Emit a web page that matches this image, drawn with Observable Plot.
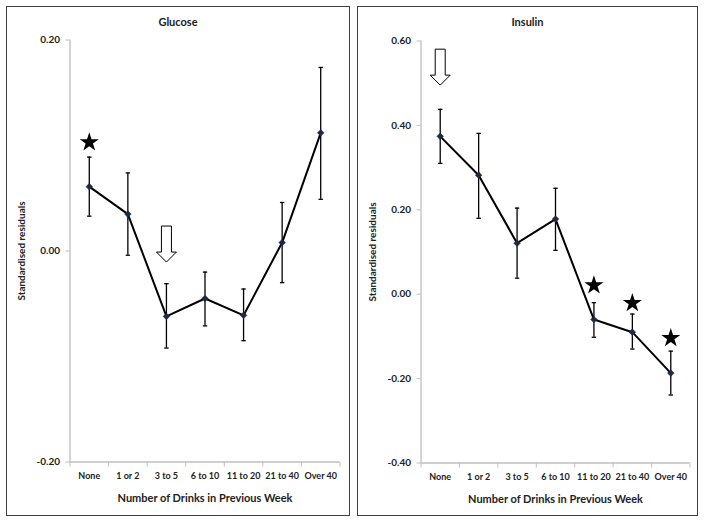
<!DOCTYPE html>
<html>
<head>
<meta charset="utf-8">
<script src="https://cdn.jsdelivr.net/npm/d3@7"></script>
<script src="https://cdn.jsdelivr.net/npm/@observablehq/plot@0.6"></script>
<style>
  body { margin: 0; background: white; width: 706px; height: 522px; position: relative; overflow: hidden; font-family: Lato, "Open Sans", sans-serif; }
  .panel { position: absolute; border: 1.5px solid #404040; height: 508px; background: white; }
  .panel svg { display: block; position: absolute; left: 0; top: 0; }
  .title { position: absolute; left: 0; width: 100%; top: 8px; text-align: center; font-weight: bold; font-size: 11px; color: #222; z-index: 2; }
</style>
</head>
<body>
<div id="left" class="panel" style="left:6px; top:6px; width:342px;"><div class="title">Glucose</div></div>
<div id="right" class="panel" style="left:357px; top:6px; width:339px;"><div class="title">Insulin</div></div>
<script>
const categories = ["None", "1 or 2", "3 to 5", "6 to 10", "11 to 20", "21 to 40", "Over 40"];

const glucose   = [0.061, 0.035, -0.062, -0.045, -0.061, 0.008, 0.112];
const glucoseLo = [0.033, -0.004, -0.092, -0.071, -0.085, -0.030, 0.049];
const glucoseHi = [0.089, 0.074, -0.031, -0.020, -0.036, 0.046, 0.174];
const glucoseTicks = [-0.2, 0.0, 0.2];
const glucoseStars = [{c: "None", v: 0.103}];
const glucoseArrows = [{c: "3 to 5", v: 0.0066}];

const insulin   = [0.374, 0.282, 0.121, 0.178, -0.060, -0.090, -0.187];
const insulinLo = [0.310, 0.180, 0.038, 0.104, -0.102, -0.130, -0.239];
const insulinHi = [0.438, 0.381, 0.204, 0.251, -0.020, -0.047, -0.135];
const insulinTicks = [-0.4, -0.2, 0.0, 0.2, 0.4, 0.6];
const insulinStars = [{c: "11 to 20", v: 0.021}, {c: "21 to 40", v: -0.021}, {c: "Over 40", v: -0.104}];
const insulinArrows = [{c: "None", v: 0.538}];

const xTitle = "Number of Drinks in Previous Week";
const yTitle = "Standardised residuals";

const pos = c => categories.indexOf(c) + 0.5;

const arrowSymbol = {
  draw(context) {
    context.moveTo(-5, -18);
    context.lineTo(5, -18);
    context.lineTo(5, 8);
    context.lineTo(10, 8);
    context.lineTo(0, 18);
    context.lineTo(-10, 8);
    context.lineTo(-5, 8);
    context.closePath();
  }
};
const capSymbol = {
  draw(context) {
    context.moveTo(-2.2, 0);
    context.lineTo(2.2, 0);
  }
};

function panel({values, lo, hi, ticks, stars, arrows, width, height, margins}) {
  const rows = categories.map((c, i) => ({c, p: i + 0.5, v: values[i], lo: lo[i], hi: hi[i]}));
  const yDomain = [ticks[0], ticks[ticks.length - 1]];
  const axisGray = "#bfbfbf";
  return Plot.plot({
    width, height,
    ...margins,
    style: {fontFamily: "Lato, 'Open Sans', sans-serif", color: "#222", background: "transparent", overflow: "visible"},
    x: {type: "linear", domain: [0, categories.length]},
    y: {domain: yDomain},
    marks: [
      Plot.ruleX([0], {stroke: axisGray, strokeWidth: 1.3}),
      Plot.ruleY([yDomain[0]], {stroke: axisGray, strokeWidth: 1.3}),
      Plot.axisY({ticks, tickSize: 4, stroke: axisGray, text: null, label: null}),
      Plot.axisY({ticks, tickSize: 0, tickPadding: 10, tickFormat: d => d.toFixed(2), fontSize: 10, fontWeight: "bold",
        label: yTitle, labelAnchor: "center", labelOffset: 52, labelArrow: "none"}),
      Plot.axisX({ticks: d3.range(0, categories.length + 1), tickSize: 5, stroke: axisGray, text: null, label: null}),
      Plot.axisX({ticks: rows.map(d => d.p), tickSize: 0, tickPadding: 11, tickFormat: d => categories[Math.floor(d)],
        fontSize: 9, fontWeight: "bold", label: null}),
      Plot.axisX({ticks: [], tickSize: 0, fontSize: 11, fontWeight: "bold",
        label: xTitle, labelAnchor: "center", labelOffset: 40, labelArrow: "none"}),
      Plot.ruleX(rows, {x: "p", y1: "lo", y2: "hi", stroke: "black", strokeWidth: 1.3}),
      Plot.dot(rows, {x: "p", y: "lo", symbol: capSymbol, r: 2, fill: "none", stroke: "black", strokeWidth: 1.3}),
      Plot.dot(rows, {x: "p", y: "hi", symbol: capSymbol, r: 2, fill: "none", stroke: "black", strokeWidth: 1.3}),
      Plot.line(rows, {x: "p", y: "v", stroke: "black", strokeWidth: 2}),
      Plot.dot(rows, {x: "p", y: "v", symbol: "diamond2", r: 3, fill: "#1c2a48", stroke: "#1c2a48", strokeWidth: 0.5}),
      Plot.dot(stars, {x: d => pos(d.c), y: "v", symbol: "star", r: 6, fill: "black", stroke: "none"}),
      Plot.dot(arrows, {x: d => pos(d.c), y: "v", symbol: arrowSymbol, r: 10, fill: "white", stroke: "black", strokeWidth: 1})
    ]
  });
}

document.getElementById("left").appendChild(panel({
  values: glucose, lo: glucoseLo, hi: glucoseHi, ticks: glucoseTicks,
  stars: glucoseStars, arrows: glucoseArrows,
  width: 342, height: 508,
  margins: {marginLeft: 62.5, marginRight: 9.5, marginTop: 32.5, marginBottom: 53.5}
}));
document.getElementById("right").appendChild(panel({
  values: insulin, lo: insulinLo, hi: insulinHi, ticks: insulinTicks,
  stars: insulinStars, arrows: insulinArrows,
  width: 339, height: 508,
  margins: {marginLeft: 62.5, marginRight: 7.5, marginTop: 33.5, marginBottom: 52.5}
}));
</script>
</body>
</html>
